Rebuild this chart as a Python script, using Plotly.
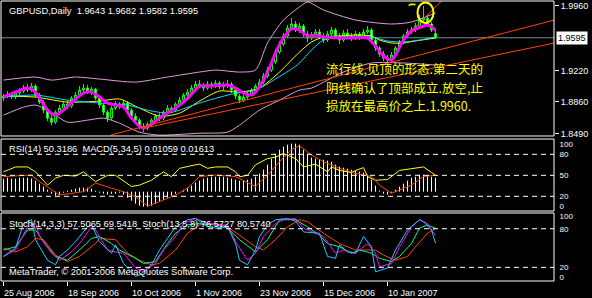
import plotly.graph_objects as go

# ---------------- data ----------------
date_labels = ["25 Aug 2006", "18 Sep 2006", "10 Oct 2006", "1 Nov 2006",
               "23 Nov 2006", "15 Dec 2006", "10 Jan 2007"]
date_label_bars = [0, 16, 32, 48, 64, 80, 96]

open_ = [1.8902, 1.8925, 1.8948, 1.8914, 1.8960, 1.8983, 1.9017, 1.8994, 1.9040, 1.8937,
         1.8856, 1.8764, 1.8672, 1.8626, 1.8741, 1.8787, 1.8833, 1.8810, 1.8902, 1.8937,
         1.8994, 1.9017, 1.8971, 1.9006, 1.8902, 1.8822, 1.8741, 1.8672, 1.8787, 1.8833,
         1.8810, 1.8845, 1.8764, 1.8695, 1.8649, 1.8580, 1.8557, 1.8603, 1.8649, 1.8695,
         1.8672, 1.8741, 1.8787, 1.8764, 1.8833, 1.8879, 1.8937, 1.8971, 1.9017, 1.9063,
         1.9052, 1.9017, 1.9063, 1.9040, 1.9075, 1.9029, 1.9052, 1.9063, 1.8994, 1.8925,
         1.8879, 1.8914, 1.8948, 1.8994, 1.9040, 1.9086, 1.9155, 1.9224, 1.9316, 1.9431,
         1.9523, 1.9615, 1.9707, 1.9753, 1.9684, 1.9730, 1.9638, 1.9592, 1.9627, 1.9661,
         1.9615, 1.9569, 1.9638, 1.9684, 1.9615, 1.9569, 1.9650, 1.9615, 1.9592, 1.9638,
         1.9604, 1.9661, 1.9684, 1.9569, 1.9477, 1.9408, 1.9362, 1.9339, 1.9397, 1.9477,
         1.9546, 1.9615, 1.9661, 1.9684, 1.9730, 1.9799, 1.9822, 1.9753, 1.9643]
high = [1.8948, 1.8983, 1.8971, 1.8983, 1.9017, 1.9052, 1.9063, 1.9075, 1.9063, 1.8960,
        1.8879, 1.8787, 1.8706, 1.8764, 1.8822, 1.8868, 1.8879, 1.8925, 1.8971, 1.9040,
        1.9063, 1.9052, 1.9029, 1.9017, 1.8925, 1.8845, 1.8764, 1.8810, 1.8868, 1.8856,
        1.8879, 1.8868, 1.8787, 1.8729, 1.8672, 1.8614, 1.8626, 1.8672, 1.8718, 1.8729,
        1.8764, 1.8822, 1.8810, 1.8856, 1.8914, 1.8960, 1.9006, 1.9052, 1.9098, 1.9109,
        1.9075, 1.9098, 1.9086, 1.9109, 1.9098, 1.9086, 1.9109, 1.9086, 1.9017, 1.8948,
        1.8937, 1.8983, 1.9017, 1.9063, 1.9121, 1.9190, 1.9259, 1.9351, 1.9466, 1.9558,
        1.9650, 1.9742, 1.9822, 1.9788, 1.9765, 1.9753, 1.9673, 1.9661, 1.9696, 1.9696,
        1.9650, 1.9673, 1.9719, 1.9707, 1.9650, 1.9684, 1.9696, 1.9650, 1.9673, 1.9661,
        1.9696, 1.9730, 1.9707, 1.9592, 1.9500, 1.9443, 1.9397, 1.9431, 1.9500, 1.9569,
        1.9638, 1.9696, 1.9719, 1.9765, 1.9857, 1.9960, 1.9857, 1.9776, 1.9682]
low = [1.8868, 1.8902, 1.8891, 1.8891, 1.8937, 1.8960, 1.8971, 1.8971, 1.8914, 1.8833,
       1.8729, 1.8637, 1.8591, 1.8603, 1.8718, 1.8764, 1.8775, 1.8787, 1.8879, 1.8914,
       1.8971, 1.8948, 1.8937, 1.8879, 1.8787, 1.8706, 1.8626, 1.8649, 1.8764, 1.8775,
       1.8787, 1.8729, 1.8660, 1.8614, 1.8545, 1.8511, 1.8534, 1.8580, 1.8626, 1.8637,
       1.8649, 1.8718, 1.8729, 1.8741, 1.8810, 1.8856, 1.8914, 1.8948, 1.8994, 1.9017,
       1.8983, 1.8994, 1.9006, 1.9017, 1.9006, 1.8994, 1.9017, 1.8960, 1.8891, 1.8845,
       1.8856, 1.8891, 1.8925, 1.8971, 1.9017, 1.9063, 1.9132, 1.9201, 1.9293, 1.9408,
       1.9500, 1.9592, 1.9684, 1.9661, 1.9650, 1.9604, 1.9546, 1.9569, 1.9604, 1.9581,
       1.9535, 1.9546, 1.9615, 1.9581, 1.9523, 1.9546, 1.9581, 1.9558, 1.9569, 1.9569,
       1.9581, 1.9638, 1.9535, 1.9443, 1.9374, 1.9328, 1.9305, 1.9316, 1.9374, 1.9454,
       1.9523, 1.9592, 1.9638, 1.9661, 1.9707, 1.9776, 1.9730, 1.9661, 1.9582]
close = [1.8925, 1.8948, 1.8914, 1.8960, 1.8983, 1.9017, 1.8994, 1.9040, 1.8937, 1.8856,
         1.8764, 1.8672, 1.8626, 1.8741, 1.8787, 1.8833, 1.8810, 1.8902, 1.8937, 1.8994,
         1.9017, 1.8971, 1.9006, 1.8902, 1.8822, 1.8741, 1.8672, 1.8787, 1.8833, 1.8810,
         1.8845, 1.8764, 1.8695, 1.8649, 1.8580, 1.8557, 1.8603, 1.8649, 1.8695, 1.8672,
         1.8741, 1.8787, 1.8764, 1.8833, 1.8879, 1.8937, 1.8971, 1.9017, 1.9063, 1.9052,
         1.9017, 1.9063, 1.9040, 1.9075, 1.9029, 1.9052, 1.9063, 1.8994, 1.8925, 1.8879,
         1.8914, 1.8948, 1.8994, 1.9040, 1.9086, 1.9155, 1.9224, 1.9316, 1.9431, 1.9523,
         1.9615, 1.9707, 1.9753, 1.9684, 1.9730, 1.9638, 1.9592, 1.9627, 1.9661, 1.9615,
         1.9569, 1.9638, 1.9684, 1.9615, 1.9569, 1.9650, 1.9615, 1.9592, 1.9638, 1.9604,
         1.9661, 1.9684, 1.9569, 1.9477, 1.9408, 1.9362, 1.9339, 1.9397, 1.9477, 1.9546,
         1.9615, 1.9661, 1.9684, 1.9730, 1.9799, 1.9822, 1.9753, 1.9684, 1.9595]
bars = list(range(len(close)))
last_price = 1.9595

# moving averages (bar index, price)
ma_fast_x = [0, 3, 6, 8, 10, 11, 13, 15, 18, 20, 22, 24, 26, 28, 30, 32, 34, 35, 37, 40,
             43, 45, 47, 49, 52, 56, 58, 60, 62, 63, 65, 67, 68, 70, 72, 74, 76, 78, 80, 84,
             88, 91, 93, 95, 97, 98, 100, 102, 105, 106, 107, 108]
ma_fast = [1.8914, 1.8971, 1.9017, 1.8971, 1.8833, 1.8764, 1.8706, 1.8764, 1.8891, 1.8960,
           1.8971, 1.8914, 1.8845, 1.8822, 1.8799, 1.8672, 1.8580, 1.8557, 1.8603, 1.8706,
           1.8787, 1.8856, 1.8948, 1.9040, 1.9040, 1.9052, 1.9017, 1.8960, 1.8937, 1.8971,
           1.9109, 1.9305, 1.9420, 1.9592, 1.9696, 1.9684, 1.9615, 1.9627, 1.9604, 1.9592,
           1.9592, 1.9592, 1.9500, 1.9385, 1.9339, 1.9397, 1.9569, 1.9673, 1.9730, 1.9742,
           1.9719, 1.9684]
ma_mid_x = [0, 8, 16, 24, 29, 34, 39, 44, 49, 54, 59, 64, 69, 74, 77, 80, 84, 88, 92, 94,
            97, 100, 103, 108]
ma_mid = [1.8925, 1.8914, 1.8856, 1.8868, 1.8891, 1.8787, 1.8695, 1.8729, 1.8868, 1.8983,
          1.8971, 1.9017, 1.9201, 1.9431, 1.9546, 1.9604, 1.9615, 1.9627, 1.9615, 1.9569,
          1.9535, 1.9535, 1.9558, 1.9592]
ma_slow_x = [0, 8, 16, 24, 31, 36, 41, 44, 49, 57, 63, 68, 72, 74, 77, 80, 84, 88, 92, 96,
             100, 104, 108]
ma_slow = [1.8914, 1.8937, 1.8879, 1.8845, 1.8822, 1.8764, 1.8729, 1.8764, 1.8845, 1.8948,
           1.8994, 1.9121, 1.9236, 1.9305, 1.9454, 1.9569, 1.9604, 1.9604, 1.9604, 1.9558,
           1.9546, 1.9569, 1.9604]

# Bollinger bands
bb_up_x = [0, 8, 12, 18, 24, 33, 41, 49, 53, 59, 63, 66, 70, 74, 76, 80, 88, 97, 102, 108]
bb_up = [1.9109, 1.9144, 1.9109, 1.9144, 1.9121, 1.9086, 1.9144, 1.9201, 1.9224, 1.9201,
         1.9224, 1.9535, 1.9799, 1.9948, 2.0006, 1.9914, 1.9799, 1.9753, 1.9776, 1.9880]
bb_lo_x = [0, 5, 8, 11, 16, 21, 25, 29, 34, 39, 49, 56, 59, 64, 69, 74, 77, 81, 85, 92,
           100, 108]
bb_lo = [1.8706, 1.8798, 1.8822, 1.8764, 1.8626, 1.8649, 1.8672, 1.8614, 1.8511, 1.8477,
         1.8499, 1.8511, 1.8591, 1.8764, 1.8879, 1.8994, 1.9017, 1.9109, 1.9201, 1.9305,
         1.9305, 1.9282]

# trend lines and drawn marks (bar index, price)
trend_a_x = [26.75, 137.75]
trend_a_y = [1.8477, 1.9799]
trend_b_x = [35, 137.75]
trend_b_y = [1.8557, 1.9535]
trend_c_x = [102, 109.75]
trend_c_y = [1.9673, 2.0029]
top_circle_x = [103.5, 107.5]
top_circle_y = [1.9765, 2.0001]
tick_mark_x = [101.3, 101.8, 103.0]
tick_mark_y = [1.9965, 1.9981, 1.9978]

# RSI(14)
rsi_x = [0, 3, 6, 8, 11, 13, 15, 18, 20, 23, 26, 28, 32, 34, 37, 40, 42, 44, 48, 49,
         51, 53, 56, 58, 59, 61, 63, 66, 68, 70, 73, 75, 78, 81, 82, 84, 87, 88, 90, 91,
         93, 96, 99, 102, 105, 107, 108]
rsi = [55, 62, 62, 55, 36, 46, 50, 49, 55, 41, 50, 50, 34, 36, 43, 55, 48, 60, 65, 66,
       60, 62, 62, 55, 48, 50, 65, 74, 76, 81, 74, 62, 66, 55, 62, 57, 54, 57, 61, 48,
       43, 44, 57, 60, 62, 54, 50.3]
rsi_levels = [20, 50, 80]

# MACD(5,34,5) histogram and signal
macd_hist = [0.00975, 0.0105, 0.00975, 0.00975, 0.0105, 0.0105, 0.0105, 0.00975, 0.00825, 0.006,
             0.00375, 0.0015, -0.0015, -0.003, -0.00225, -0.00075, 0.00075, 0.0015, 0.00225, 0.003,
             0.003, 0.003, 0.00225, 0.00075, -0.00075, -0.0015, -0.00225, -0.0015, -0.0015, -0.00075,
             -0.00225, -0.0045, -0.00675, -0.009, -0.0105, -0.01125, -0.01125, -0.0105, -0.009, -0.0075,
             -0.006, -0.0045, -0.003, -0.0015, 0.0, 0.0015, 0.003, 0.0045, 0.00675, 0.00825,
             0.00975, 0.0105, 0.01125, 0.01125, 0.01125, 0.01125, 0.0105, 0.00975, 0.009, 0.00825,
             0.00825, 0.009, 0.00975, 0.01125, 0.0135, 0.0165, 0.02025, 0.02475, 0.0285, 0.0315,
             0.03375, 0.03525, 0.036, 0.036, 0.03525, 0.0315, 0.0285, 0.0255, 0.02475, 0.024,
             0.024, 0.02325, 0.0225, 0.02025, 0.01875, 0.018, 0.01725, 0.0165, 0.01575, 0.015,
             0.01425, 0.01275, 0.009, 0.0045, 0.00075, -0.0015, -0.00225, -0.00075, 0.0015, 0.00375,
             0.006, 0.00825, 0.0105, 0.01125, 0.01275, 0.01275, 0.012, 0.01125, 0.0105]
macd_sig_x = [0, 7, 9, 12, 14, 20, 23, 27, 30, 33, 36, 38, 43, 46, 49, 53, 58, 63, 66, 69,
              72, 74, 77, 80, 84, 88, 92, 94, 97, 98, 102, 105, 108]
macd_sig = [0.0113, 0.0125, 0.0075, 0.0013, -0.0025, 0.0, 0.0065, 0.0026, 0.0, -0.0038,
            -0.0107, -0.0087, -0.0025, 0.0026, 0.0113, 0.0125, 0.0113, 0.0038, 0.0125, 0.0225,
            0.0315, 0.0345, 0.0275, 0.0225, 0.0176, 0.0138, 0.0113, 0.005, -0.0012, 0.0,
            0.005, 0.0113, 0.0125]

# Stochastic oscillators
st1_x = [0, 3, 5, 7, 8, 11, 13, 14, 16, 18, 21, 22, 24, 27, 28, 30, 33, 34, 37, 39,
         41, 43, 46, 48, 51, 53, 56, 58, 59, 61, 63, 64, 66, 68, 71, 73, 75, 78, 79, 81,
         83, 84, 86, 88, 90, 92, 93, 96, 98, 101, 104, 105, 107, 108]
st1 = [37, 50, 88, 94, 63, 31, 24, 37, 47, 60, 83, 86, 60, 42, 55, 26, 6, 8, 24, 47,
       65, 83, 94, 96, 83, 81, 83, 57, 31, 24, 47, 68, 86, 94, 96, 92, 75, 73, 73, 37,
       34, 55, 44, 42, 68, 52, 13, 19, 47, 78, 94, 91, 78, 57.5]
st1s_x = [0, 3, 6, 8, 9, 12, 14, 17, 19, 22, 23, 26, 28, 30, 33, 35, 38, 40, 43, 45,
          48, 50, 53, 56, 58, 61, 63, 65, 68, 70, 73, 75, 78, 80, 83, 85, 88, 91, 93, 94,
          97, 99, 102, 104, 106, 108]
st1s = [37, 47, 83, 88, 68, 42, 31, 44, 57, 83, 78, 47, 44, 42, 19, 13, 26, 47, 68, 88,
        96, 91, 86, 86, 60, 31, 42, 68, 88, 94, 96, 81, 73, 68, 42, 47, 42, 57, 42, 21,
        26, 52, 83, 94, 88, 69.5]
st2_x = [0, 3, 6, 8, 11, 13, 16, 19, 22, 24, 27, 29, 33, 35, 38, 41, 43, 46, 49, 53,
         56, 59, 63, 66, 69, 73, 76, 79, 81, 84, 87, 89, 92, 94, 97, 99, 102, 104, 106, 108]
st2 = [47, 52, 78, 78, 52, 37, 31, 47, 65, 68, 57, 47, 34, 26, 29, 57, 73, 86, 88, 86,
       81, 63, 44, 63, 94, 94, 83, 70, 57, 52, 42, 47, 42, 34, 29, 37, 57, 81, 86, 80.6]
st2s_x = [0, 3, 6, 8, 10, 13, 16, 19, 23, 24, 28, 31, 34, 37, 39, 43, 46, 49, 53, 56,
          59, 63, 65, 68, 71, 74, 76, 80, 84, 88, 93, 95, 98, 101, 103, 106, 108]
st2s = [50, 44, 52, 65, 63, 39, 29, 37, 57, 65, 63, 42, 31, 24, 26, 47, 73, 86, 88, 83,
        70, 52, 47, 63, 83, 94, 91, 73, 57, 47, 47, 39, 31, 37, 52, 73, 80.6]
stoch_levels = [20, 80]

main_ticks = [1.9960, 1.9220, 1.8860, 1.8490]
rsi_tick_pos = [6, 20, 50, 80, 94]
rsi_tick_txt = ["0", "20", "50", "80", "100"]
st_tick_pos = [5, 20, 80, 100]
st_tick_txt = ["0", "20", "80", "100"]

title_txt = "GBPUSD,Daily  1.9643 1.9682 1.9582 1.9595"
rsi_txt = "RSI(14) 50.3186  MACD(5,34,5) 0.01059 0.01613"
st_txt = "Stoch(14,3,3) 57.5065 69.5418  Stoch(13,5,8) 76.5727 80.5740"
copy_txt = "MetaTrader, © 2001-2006 MetaQuotes Software Corp."
cn_lines = ["流行线,见顶的形态.第二天的", "阴线确认了顶部成立.放空,止", "损放在最高价之上.1.9960."]

# ---------------- figure ----------------
FONT = "Liberation Sans, Arial, sans-serif"
fig = go.Figure()

def line(x, y, color, width, yaxis="y", shape="linear"):
    fig.add_trace(go.Scatter(x=x, y=y, mode="lines", yaxis=yaxis, xaxis="x",
                             line=dict(color=color, width=width, shape=shape,
                                       smoothing=0.7 if shape == "spline" else None),
                             hoverinfo="skip", showlegend=False))

fig.add_trace(go.Candlestick(
    x=bars, open=open_, high=high, low=low, close=close, xaxis="x", yaxis="y",
    increasing=dict(line=dict(color="#00FF00", width=1), fillcolor="#000000"),
    decreasing=dict(line=dict(color="#00FF00", width=1), fillcolor="#FFFFFF"),
    whiskerwidth=0, hoverinfo="skip", showlegend=False))

line(bb_up_x, bb_up, "#DDA0DD", 1, shape="spline")
line(bb_lo_x, bb_lo, "#DDA0DD", 1, shape="spline")
line(ma_mid_x, ma_mid, "#FFFF00", 1, shape="spline")
line(ma_slow_x, ma_slow, "#00E0FF", 1, shape="spline")
line(ma_fast_x, ma_fast, "#FF00FF", 3, shape="spline")
line(trend_a_x, trend_a_y, "#FF4500", 1)
line(trend_b_x, trend_b_y, "#FF4500", 1)
line(trend_c_x, trend_c_y, "#FF4500", 1)
line(tick_mark_x, tick_mark_y, "#FFFF00", 1.5)

# RSI pane: MACD histogram as thin vertical sticks
hx, hy = [], []
for b, v in zip(bars, macd_hist):
    hx += [b, b, None]
    hy += [0, v, None]
fig.add_trace(go.Scatter(x=hx, y=hy, mode="lines", xaxis="x", yaxis="y3",
                         line=dict(color="#FFFFFF", width=1), hoverinfo="skip",
                         showlegend=False))
line(macd_sig_x, macd_sig, "#FF4500", 1, yaxis="y3")
line(rsi_x, rsi, "#FFFF00", 1, yaxis="y2")

# Stoch pane
line(st2s_x, st2s, "#FF4500", 1, yaxis="y4")
line(st2_x, st2, "#00FF7F", 1, yaxis="y4")
line(st1s_x, st1s, "#FF00FF", 1, yaxis="y4")
line(st1_x, st1, "#1EC8FF", 1, yaxis="y4")

# domains (paper) for panes
main_dom = [0.5179, 1.0]
rsi_dom = [0.25, 0.5071]
st_dom = [0.0, 0.2429]

shapes = []
for dom in (main_dom, rsi_dom, st_dom):
    shapes.append(dict(type="rect", xref="paper", yref="paper", x0=0, x1=1,
                       y0=dom[0], y1=dom[1], line=dict(color="white", width=1)))
for lv in rsi_levels:
    shapes.append(dict(type="line", xref="paper", yref="y2", x0=0, x1=1, y0=lv, y1=lv,
                       line=dict(color="white", width=1, dash="5px,4px")))
for lv in stoch_levels:
    shapes.append(dict(type="line", xref="paper", yref="y4", x0=0, x1=1, y0=lv, y1=lv,
                       line=dict(color="white", width=1, dash="5px,4px")))
shapes.append(dict(type="line", xref="paper", yref="y", x0=0, x1=1, y0=last_price,
                   y1=last_price, line=dict(color="#778899", width=1), layer="below"))
shapes.append(dict(type="circle", xref="x", yref="y", x0=top_circle_x[0], x1=top_circle_x[1],
                   y0=top_circle_y[0], y1=top_circle_y[1],
                   line=dict(color="#FFFF00", width=2)))

annotations = []
def txt(s, x, y, xref="paper", yref="paper", size=9.3, color="white", family=FONT, **kw):
    annotations.append(dict(text=s, x=x, y=y, xref=xref, yref=yref, xanchor="left",
                            yanchor="middle", showarrow=False,
                            font=dict(family=family, size=size, color=color), **kw))

txt(title_txt, 0.0108, 0.966)
txt(rsi_txt, 0.0108, 0.4714)
txt(st_txt, 0.0108, 0.2036)
txt(copy_txt, 0.0108, 0.0321)
for lab, b in zip(date_labels, date_label_bars):
    txt(lab, b - 0.3, -0.043, xref="x", size=9)
txt("1.9595", 1.0036, last_price, yref="y", size=9, color="black",
    bgcolor="white", borderpad=1)
for s, yp in zip(cn_lines, [0.7575, 0.6925, 0.6275]):
    txt(s, 80.0, yp, xref="x", size=12.5, color="#FFFF00",
        family="Noto Sans CJK SC, sans-serif")

axis_common = dict(showgrid=False, zeroline=False, showline=False)
fig.update_layout(
    width=592, height=298, margin=dict(l=1, r=38, t=1, b=17),
    paper_bgcolor="black", plot_bgcolor="black", showlegend=False,
    shapes=shapes, annotations=annotations,
    xaxis=dict(domain=[0, 1], range=[-0.625, 137.625], anchor="y4",
               rangeslider=dict(visible=False),
               tickvals=date_label_bars, ticks="outside", ticklen=4, tickcolor="white",
               showticklabels=False, **axis_common),
    yaxis=dict(domain=main_dom, range=[1.8467, 2.0017], side="right", anchor="x",
               tickvals=main_ticks, ticktext=["%.4f" % v for v in main_ticks],
               ticks="outside", ticklen=4, tickcolor="white",
               tickfont=dict(family=FONT, size=9, color="white"), **axis_common),
    yaxis2=dict(domain=rsi_dom, range=[-1, 101.9], side="right", anchor="x",
                tickvals=rsi_tick_pos, ticktext=rsi_tick_txt, ticks="outside", ticklen=3,
                tickcolor="black", tickfont=dict(family=FONT, size=8, color="white"),
                **axis_common),
    yaxis3=dict(overlaying="y2", range=[-0.0145, 0.0395], visible=False, anchor="x",
                **axis_common),
    yaxis4=dict(domain=st_dom, range=[-1.2, 104.5], side="right", anchor="x",
                tickvals=st_tick_pos, ticktext=st_tick_txt, ticks="outside", ticklen=3,
                tickcolor="black", tickfont=dict(family=FONT, size=8, color="white"),
                **axis_common),
)

fig.write_html("out.html")
